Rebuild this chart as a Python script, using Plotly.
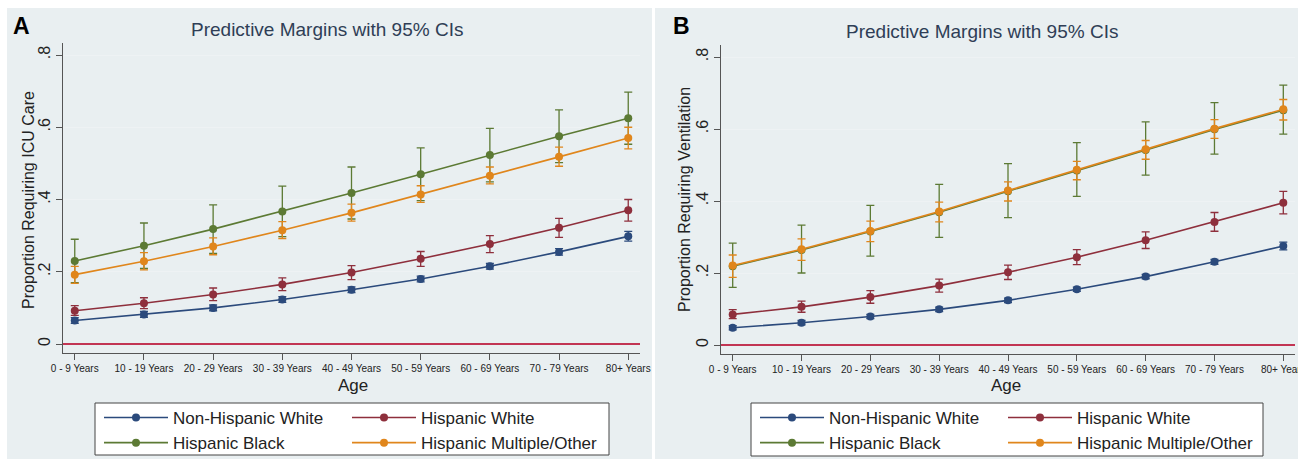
import plotly.graph_objects as go

W, H = 1298, 459

ages = ["0 - 9 Years", "10 - 19 Years", "20 - 29 Years", "30 - 39 Years",
        "40 - 49 Years", "50 - 59 Years", "60 - 69 Years", "70 - 79 Years", "80+ Years"]
groups = ["Non-Hispanic White", "Hispanic White", "Hispanic Black", "Hispanic Multiple/Other"]
ytick_vals = [0, 0.2, 0.4, 0.6, 0.8]
ytick_text = ["0", ".2", ".4", ".6", ".8"]

# Panel A: ICU care
nhw_icu = [0.065, 0.082, 0.100, 0.123, 0.150, 0.180, 0.215, 0.255, 0.298]
nhw_icu_lo = [0.057, 0.074, 0.092, 0.115, 0.142, 0.172, 0.207, 0.246, 0.285]
nhw_icu_hi = [0.073, 0.090, 0.108, 0.131, 0.158, 0.188, 0.223, 0.264, 0.312]
hw_icu = [0.092, 0.113, 0.137, 0.165, 0.198, 0.236, 0.277, 0.322, 0.370]
hw_icu_lo = [0.079, 0.098, 0.120, 0.148, 0.178, 0.215, 0.253, 0.295, 0.340]
hw_icu_hi = [0.106, 0.128, 0.155, 0.183, 0.217, 0.256, 0.300, 0.348, 0.400]
hb_icu = [0.230, 0.272, 0.318, 0.367, 0.418, 0.470, 0.523, 0.575, 0.625]
hb_icu_lo = [0.170, 0.209, 0.251, 0.297, 0.346, 0.397, 0.449, 0.502, 0.553]
hb_icu_hi = [0.290, 0.335, 0.385, 0.437, 0.490, 0.543, 0.597, 0.648, 0.697]
hmo_icu = [0.192, 0.229, 0.270, 0.315, 0.363, 0.414, 0.466, 0.518, 0.570]
hmo_icu_lo = [0.168, 0.205, 0.247, 0.292, 0.340, 0.392, 0.443, 0.492, 0.540]
hmo_icu_hi = [0.215, 0.253, 0.294, 0.339, 0.387, 0.438, 0.490, 0.545, 0.600]

# Panel B: ventilation
nhw_vent = [0.048, 0.062, 0.079, 0.099, 0.124, 0.155, 0.190, 0.231, 0.275]
nhw_vent_lo = [0.042, 0.056, 0.073, 0.093, 0.118, 0.149, 0.184, 0.224, 0.264]
nhw_vent_hi = [0.054, 0.068, 0.085, 0.105, 0.130, 0.161, 0.196, 0.238, 0.286]
hw_vent = [0.085, 0.106, 0.133, 0.165, 0.202, 0.244, 0.291, 0.342, 0.395]
hw_vent_lo = [0.073, 0.091, 0.116, 0.147, 0.182, 0.223, 0.268, 0.316, 0.364]
hw_vent_hi = [0.098, 0.122, 0.151, 0.183, 0.222, 0.265, 0.314, 0.368, 0.427]
hb_vent = [0.219, 0.264, 0.315, 0.369, 0.427, 0.485, 0.542, 0.599, 0.652]
hb_vent_lo = [0.160, 0.200, 0.247, 0.299, 0.354, 0.413, 0.472, 0.530, 0.586]
hb_vent_hi = [0.283, 0.333, 0.388, 0.446, 0.504, 0.562, 0.620, 0.673, 0.722]
hmo_vent = [0.221, 0.266, 0.317, 0.371, 0.429, 0.487, 0.544, 0.601, 0.655]
hmo_vent_lo = [0.188, 0.235, 0.287, 0.342, 0.400, 0.459, 0.516, 0.574, 0.625]
hmo_vent_hi = [0.250, 0.295, 0.344, 0.397, 0.453, 0.510, 0.568, 0.626, 0.682]

colors = ["#2B4A7C", "#8E2F3C", "#5C7A34", "#E0861C"]
FONT = "Liberation Sans, Arial, sans-serif"


def px_x(p):
    return p / W


def px_y(p):
    return 1 - p / H


fig = go.Figure()

# legends are columns: col 1 = series 0 and 2, col 2 = series 1 and 3
panels = [
    dict(xa="x", ya="y", legs=("legend", "legend2"),
         data=[(nhw_icu, nhw_icu_lo, nhw_icu_hi), (hw_icu, hw_icu_lo, hw_icu_hi),
               (hb_icu, hb_icu_lo, hb_icu_hi), (hmo_icu, hmo_icu_lo, hmo_icu_hi)]),
    dict(xa="x2", ya="y2", legs=("legend3", "legend4"),
         data=[(nhw_vent, nhw_vent_lo, nhw_vent_hi), (hw_vent, hw_vent_lo, hw_vent_hi),
               (hb_vent, hb_vent_lo, hb_vent_hi), (hmo_vent, hmo_vent_lo, hmo_vent_hi)]),
]

for p in panels:
    for i, (vals, lo, hi) in enumerate(p["data"]):
        fig.add_trace(go.Scatter(
            x=ages, y=vals, xaxis=p["xa"], yaxis=p["ya"],
            name=groups[i], mode="lines+markers",
            line=dict(color=colors[i], width=1.6),
            marker=dict(color=colors[i], size=8, symbol="circle"),
            error_y=dict(type="data", symmetric=False,
                         array=[h - v for h, v in zip(hi, vals)],
                         arrayminus=[v - l for v, l in zip(vals, lo)],
                         color=colors[i], thickness=1.3, width=4),
            legend=p["legs"][i % 2],
            legendrank=i,
            showlegend=True,
        ))

axis_common_x = dict(type="category", showline=True, linecolor="#555555", linewidth=1,
                     ticks="outside", ticklen=6, tickcolor="#555555", showgrid=False,
                     zeroline=False, tickangle=0,
                     tickfont=dict(family=FONT, size=10, color="#222222"),
                     range=[-0.17, 8.17], fixedrange=True)
axis_common_y = dict(showline=True, linecolor="#555555", linewidth=1,
                     ticks="outside", ticklen=6, tickcolor="#555555",
                     tickvals=ytick_vals, ticktext=ytick_text, tickangle=-90,
                     tickfont=dict(family=FONT, size=16, color="#222222"),
                     showgrid=True, gridcolor="#EEF2F4", gridwidth=1,
                     zeroline=True, zerolinecolor="#C23553", zerolinewidth=1.5,
                     fixedrange=True)

fig.update_layout(
    width=W, height=H,
    margin=dict(l=0, r=0, t=0, b=0, autoexpand=False),
    paper_bgcolor="white", plot_bgcolor="white",
    font=dict(family=FONT, color="#222222"),
    xaxis=dict(axis_common_x, domain=[px_x(63), px_x(640)], anchor="y"),
    yaxis=dict(axis_common_y, domain=[px_y(353), px_y(43)], anchor="x",
               range=[-(353 - 344) / 361.25, (344 - 43) / 361.25]),
    xaxis2=dict(axis_common_x, domain=[px_x(721), px_x(1295)], anchor="y2"),
    yaxis2=dict(axis_common_y, domain=[px_y(354), px_y(45)], anchor="x2",
                range=[-(354 - 345) / 360.0, (345 - 45) / 360.0]),
)

leg_common = dict(orientation="v", bgcolor="rgba(0,0,0,0)", borderwidth=0,
                  font=dict(family=FONT, size=17, color="#222222"),
                  itemwidth=64, tracegroupgap=0,
                  xref="paper", yref="paper", xanchor="left", yanchor="middle",
                  itemclick=False, itemdoubleclick=False)
fig.update_layout(
    legend=dict(leg_common, x=px_x(99), y=px_y(430.5)),
    legend2=dict(leg_common, x=px_x(347), y=px_y(430.5)),
    legend3=dict(leg_common, x=px_x(755), y=px_y(430.5)),
    legend4=dict(leg_common, x=px_x(1003), y=px_y(430.5)),
)

shapes = [
    dict(type="rect", xref="paper", yref="paper", x0=px_x(7), x1=px_x(652),
         y0=0, y1=px_y(8), fillcolor="#E9EFF1", line=dict(width=0), layer="below"),
    dict(type="rect", xref="paper", yref="paper", x0=px_x(655), x1=1,
         y0=0, y1=px_y(8), fillcolor="#E9EFF1", line=dict(width=0), layer="below"),
    dict(type="rect", xref="paper", yref="paper", x0=px_x(95), x1=px_x(609),
         y0=px_y(455), y1=px_y(403), fillcolor="white",
         line=dict(color="#444444", width=1), layer="below"),
    dict(type="rect", xref="paper", yref="paper", x0=px_x(751), x1=px_x(1263),
         y0=px_y(456), y1=px_y(403), fillcolor="white",
         line=dict(color="#444444", width=1), layer="below"),
]
fig.update_layout(shapes=shapes)

title_font = dict(family=FONT, size=19, color="#2F3E56")
ann = [
    dict(text="<b>A</b>", x=px_x(21), y=px_y(26), font=dict(family=FONT, size=23, color="black"),
         xanchor="center", yanchor="middle"),
    dict(text="<b>B</b>", x=px_x(681), y=px_y(26), font=dict(family=FONT, size=23, color="black"),
         xanchor="center", yanchor="middle"),
    dict(text="Predictive Margins with 95% CIs", x=px_x(327), y=px_y(30), font=title_font,
         xanchor="center", yanchor="middle"),
    dict(text="Predictive Margins with 95% CIs", x=px_x(982), y=px_y(31), font=title_font,
         xanchor="center", yanchor="middle"),
    dict(text="Proportion Requiring ICU Care", x=px_x(28), y=px_y(200), textangle=-90,
         font=dict(family=FONT, size=16, color="#222222"), xanchor="center", yanchor="middle"),
    dict(text="Proportion Requiring Ventilation", x=px_x(684), y=px_y(200), textangle=-90,
         font=dict(family=FONT, size=16, color="#222222"), xanchor="center", yanchor="middle"),
    dict(text="Age", x=px_x(353), y=px_y(385), font=dict(family=FONT, size=17, color="#222222"),
         xanchor="center", yanchor="middle"),
    dict(text="Age", x=px_x(1006), y=px_y(385), font=dict(family=FONT, size=17, color="#222222"),
         xanchor="center", yanchor="middle"),
]
for a in ann:
    a.update(xref="paper", yref="paper", showarrow=False)
fig.update_layout(annotations=ann)

fig.write_html("out.html", config={"displayModeBar": False, "staticPlot": True},
               post_script="document.body.style.margin='0';")
